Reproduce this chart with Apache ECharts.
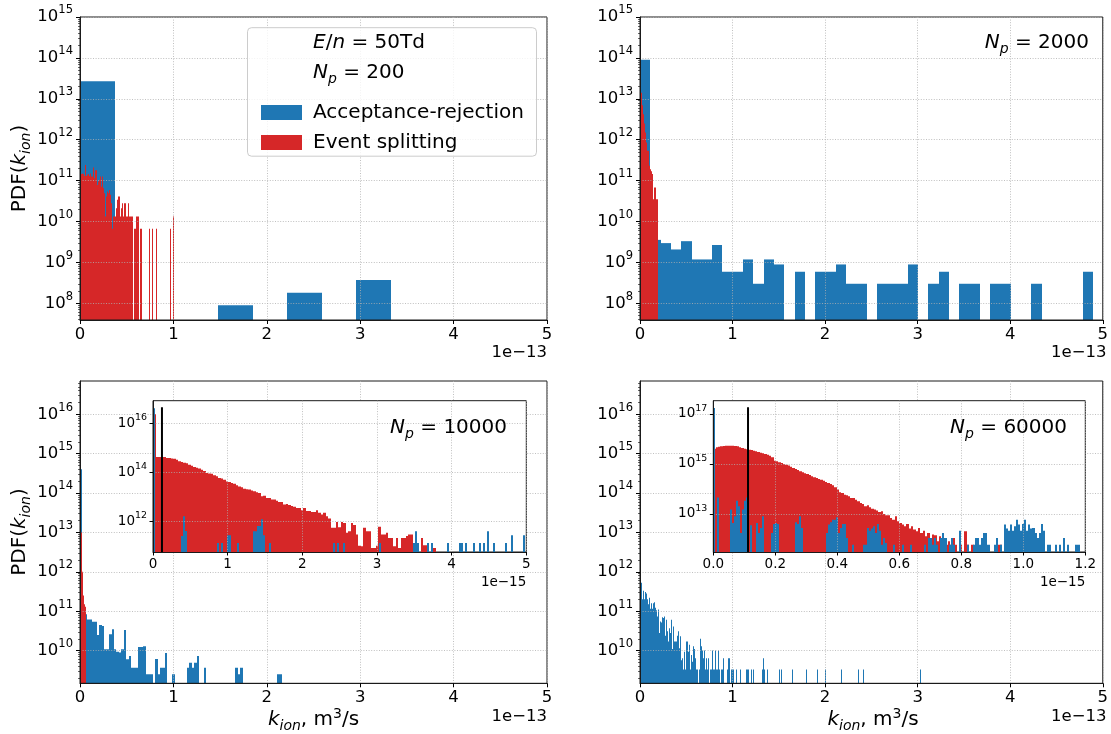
<!DOCTYPE html>
<html>
<head>
<meta charset="utf-8">
<title>PDF of ionisation rate coefficient</title>
<script src="https://cdn.jsdelivr.net/npm/echarts@6/dist/echarts.min.js"></script>
<style>
  html, body { margin: 0; padding: 0; background: #fff; }
  #chart { width: 1111px; height: 734px; }
</style>
</head>
<body>
<div id="chart"></div>
<script>
// ---------- histogram data: PDF(k_ion) per bin (x in 1e-13 m^3/s, insets in 1e-15 m^3/s) ----------

// N_p = 200
const p1BlueWidth = 0.37;
const p1Blue = [2.7e13, 0, 0, 0, 9e7, 0, 1.8e8, 0, 3.7e8];
const p1RedWidth = 0.01005;
const p1Red = [
  1.38e11, 1.45e11, 1.5e11, 1.45e11, 1.3e11, 2.4e11, 1.3e11, 1.38e11, 1.3e11, 1.45e11,
  1.3e11, 1.5e11, 1.25e11, 1.25e11, 2.1e11, 1.14e11, 1.8e11, 1.8e11, 7.8e10, 9.5e10,
  1.04e11, 1.25e11, 7.1e10, 1.25e11, 6.5e10, 5.9e10, 4.9e10, 1.32e10, 4.1e10, 5.4e10,
  4.9e10, 5.9e10, 4.5e10, 2.8e10, 6.6e9, 1.32e10, 1.32e10, 1.32e10, 2.1e10, 3.4e10,
  4.1e10, 2.8e10, 4.1e10, 1.32e10, 2.1e10, 2.8e10, 1.32e10, 2.8e10, 2.8e10, 1.32e10,
  1.32e10, 2.8e10, 1.32e10, 1.32e10, 1.32e10, 1.32e10, 0, 6.6e9, 0, 6.6e9,
  1.32e10, 1.32e10, 1.32e10, 0, 6.6e9, 6.6e9, 0, 0, 0, 0,
  0, 0, 0, 6.6e9, 0, 0, 0, 6.6e9, 0, 0,
  0, 6.6e9, 0, 0, 0, 0, 0, 0, 0, 0,
  0, 0, 0, 0, 0, 0, 6.6e9, 0, 0, 1.32e10
];

// N_p = 2000
const p2BlueWidth = 0.1113;
const p2Blue = [
  9e13, 3.55e9, 2.96e9, 2.07e9, 3.3e9, 1.18e9, 1.18e9, 2.66e9, 5.9e8, 5.9e8,
  1.18e9, 3e8, 1.18e9, 8.9e8, 0, 5.9e8, 0, 5.9e8, 5.9e8, 8.9e8,
  3e8, 3e8, 0, 3e8, 3e8, 3e8, 8.9e8, 0, 3e8, 5.9e8,
  0, 3e8, 3e8, 0, 3e8, 3e8, 0, 0, 3e8, 0,
  0, 0, 0, 5.9e8
];
const p2RedWidth = 0.01075;
const p2Red = [3e15, 1.4e13, 7e12, 4.2e12, 2.5e12, 1.5e12, 8.5e11, 5.4e11, 5.4e11, 2.3e11,
  1.9e11, 1.7e11, 1.45e11, 3.5e10, 6.8e10, 6.8e10, 3.5e10, 3.5e10];

// N_p = 10000, full range
const p3BlueWidth = 0.026;
const p3Blue = [
  4e14, 9e10, 8.4e10, 6.2e10, 6.2e10, 5.4e10, 5.4e10, 2.5e10, 4.5e10, 4.2e10,
  1.08e10, 1.08e10, 2.6e10, 3.5e10, 1.08e10, 9.4e9, 8.9e9, 1.08e10, 3.35e10, 6e9,
  7.3e9, 3.7e9, 3.7e9, 3.7e9, 1.24e10, 1.24e10, 1.3e10, 2.5e9, 2.5e9, 2.5e9,
  0, 6.1e9, 2.5e9, 3.7e9, 3.7e9, 8.7e9, 0, 0, 2.5e9, 0,
  0, 0, 0, 0, 3.7e9, 4.95e9, 3.7e9, 4.95e9, 7.3e9, 0,
  0, 3.7e9, 0, 0, 0, 0, 0, 0, 0, 0,
  0, 0, 0, 0, 3.7e9, 2.5e9, 3.7e9, 0, 0, 0,
  0, 0, 0, 0, 0, 0, 0, 0, 0, 0,
  0, 2.5e9, 2.5e9
];
const p3RedWidth = 0.0113;
const p3Red = [3e16, 1e13, 1e12, 2.5e11, 1.5e11, 1.3e11];

// N_p = 10000, zoomed (1e-15)
const i3RedWidth = 0.0335;
const i3Red = [
  2.3e16, 4.1e14, 4.1e14, 4.1e14, 4.1e14, 3.8e14, 3.8e14, 3.6e14, 3.5e14, 3.2e14,
  2.8e14, 2.6e14, 2.4e14, 2.3e14, 2.0e14, 1.8e14, 1.6e14, 1.5e14, 1.4e14, 1.26e14,
  1.1e14, 9.3e13, 8.8e13, 8.5e13, 7.5e13, 6.8e13, 5.8e13, 5.5e13, 4.9e13, 4.2e13,
  4.0e13, 3.6e13, 3.4e13, 2.9e13, 2.6e13, 2.4e13, 2.1e13, 2.0e13, 1.95e13, 1.8e13,
  1.66e13, 1.5e13, 1.42e13, 1.04e13, 1.1e13, 8.9e12, 8.9e12, 7.6e12, 7.6e12, 6.8e12,
  6.1e12, 6.1e12, 4.8e12, 5.0e12, 4.6e12, 4.2e12, 3.9e12, 3.5e12, 3.5e12, 2.8e12,
  3.5e12, 2.6e12, 2.6e12, 2.4e12, 2.4e12, 2.8e12, 2.2e12, 1.9e12, 2.2e12, 1.6e12,
  1.3e12, 5.4e11, 5.4e11, 9.4e11, 5.7e11, 9.4e11, 8.5e11, 3.4e11, 3.9e11, 8.5e11,
  7e11, 2.9e11, 1e11, 9.6e10, 5.4e11, 3.9e11, 3.9e11, 8.2e10, 8.2e10, 1e11,
  6e11, 2.9e11, 2.9e11, 3.4e11, 2.1e11, 2.1e11, 9.6e10, 2.1e11, 8.2e10, 2.1e11,
  2.1e11, 2.5e11, 2.9e11, 2.9e11, 1e11, 9.6e10, 0, 2.1e11, 1.05e11, 1.05e11,
  0, 8.2e10, 8.2e10
];
const i3BlueWidth = 0.0268;
// [bin index, PDF]
const i3Blue = [
  [0, 4e16], [14, 2.5e11], [15, 1.6e12], [16, 4e11], [32, 1.3e11], [34, 1.3e11], [37, 2.7e11],
  [38, 2.7e11], [42, 1.3e11], [50, 3.9e11], [51, 3.9e11], [52, 6.4e11], [53, 6.4e11], [54, 1.2e12],
  [55, 2.7e11], [58, 1.3e11], [90, 1.3e11], [92, 1.3e11], [95, 1.3e11], [113, 1.3e11], [130, 1.3e11],
  [131, 3.9e11], [132, 1.3e11], [137, 1.3e11], [139, 1.3e11], [147, 1.3e11], [153, 1.3e11],
  [154, 1.3e11], [156, 1.3e11], [160, 1.3e11], [163, 1.3e11], [165, 1.3e11], [167, 3.9e11],
  [170, 1.3e11], [176, 1.3e11], [179, 2.7e11], [185, 2.7e11]
];
const i3Marker = 0.12;

// N_p = 60000, full range
const p4BlueWidth = 0.01073;
const p4Blue = [
  9.6e11, 5.3e11, 2e11, 3.3e11, 2e11, 3.1e11, 2.8e11, 2e11, 1.5e11, 2.2e11,
  1.15e11, 1.6e11, 1.15e11, 1.6e11, 1.7e11, 1.22e11, 1.06e11, 7.4e10, 1.1e11, 2.8e10,
  5.5e10, 5.2e10, 7e10, 6.7e10, 7.4e10, 2.4e10, 6.1e10, 3.1e10, 1.7e10, 3.7e10,
  2.8e10, 6.1e10, 1.1e10, 4.1e10, 1.7e10, 1.7e10, 1.7e10, 2.4e10, 3.1e10, 1.15e10,
  2.3e10, 5.7e9, 6.4e9, 3.3e9, 9.4e9, 3.3e9, 1.7e10, 1.7e10, 9.4e9, 1.4e10,
  3.3e9, 7.7e9, 5.2e9, 1.3e10, 1.1e10, 6.4e9, 3.3e9, 3.3e9, 0, 3.3e9,
  2e10, 1.3e10, 1e10, 6.4e9, 1e10, 3.3e9, 6.4e9, 3.3e9, 6.4e9, 0,
  3.3e9, 3.3e9, 3.3e9, 1e10, 3.3e9, 3.3e9, 1e10, 3.3e9, 3.3e9, 1e10,
  3.3e9, 0, 3.3e9, 3.3e9, 6.4e9, 0, 0, 0, 3.3e9, 6.4e9,
  6.4e9, 0, 3.3e9, 3.3e9, 3.3e9
];
// sparse tail: [bin index, PDF]
const p4BlueTail = [
  [97, 3.3e9], [101, 3.3e9], [107, 3.3e9], [108, 3.3e9], [109, 3.3e9], [112, 3.3e9], [114, 3.3e9],
  [123, 3.3e9], [124, 6.4e9], [125, 3.3e9], [128, 3.3e9], [140, 3.3e9], [142, 3.3e9], [153, 3.3e9],
  [167, 3.3e9], [178, 3.3e9], [186, 3.3e9], [202, 3.3e9], [220, 3.3e9], [225, 3.3e9], [282, 3.3e9]
];
const p4RedWidth = 0.0108;
const p4Red = [3e16];

// N_p = 60000, zoomed (1e-15)
const i4RedWidth = 0.0075;
const i4Red = [
  4.1e15, 4.64e15, 4.93e15, 5.09e15, 5.25e15, 5.41e15, 5.41e15, 5.41e15, 5.41e15, 5.25e15,
  5.09e15, 4.64e15, 4.37e15, 4.1e15, 3.86e15, 3.74e15, 3.63e15, 3.41e15, 3.21e15, 3.02e15,
  2.84e15, 2.67e15, 2.51e15, 2.36e15, 2.15e15, 1.85e15, 1.36e15, 1.28e15, 1.17e15, 1.1e15,
  1.0e15, 9.4e14, 8.6e14, 7.8e14, 6.9e14, 6.3e14, 5.75e14, 5.1e14, 4.64e14, 4.24e14,
  3.98e14, 3.63e14, 3.21e14, 2.93e14, 2.75e14, 2.51e14, 2.36e14, 2.15e14, 1.9e14, 1.74e14,
  1.58e14, 1.4e14, 1.17e14, 9.4e13, 7.4e13, 6.9e13, 5.9e13, 5.6e13, 5.1e13, 4.37e13,
  4.37e13, 3.74e13, 3.21e13, 2.75e13, 2.51e13, 2.03e13, 2.22e13, 1.85e13, 1.63e13, 1.49e13,
  1.36e13, 1.2e13, 1.28e13, 1e13, 8.8e12, 8.8e12, 6.9e12, 5.9e12, 8.1e12, 5.1e12,
  4.37e12, 3.74e12, 3.21e12, 4e12, 2.59e12, 3.21e12, 2.36e12, 2.03e12, 2.75e12, 1.74e12,
  2.15e12, 1.28e12, 1.74e12, 1.1e12, 1.49e12, 1.4e12, 8.1e11, 1.28e12, 6.9e11, 1.1e12,
  5.9e11, 8.1e11, 5.9e11, 1.1e12, 5.9e11, 0, 5.9e11, 0, 2.03e12, 5.9e11,
  0, 5.9e11, 0, 5.9e11, 0, 5.9e11, 5.9e11, 0, 0, 0,
  0, 0, 5.9e11, 5.9e11
];
const i4BlueWidth = 0.0066;
const i4Blue = [
  [0, 1.74e17], [2, 4.6e13], [8, 1.49e13], [9, 4.37e12], [10, 8.1e12], [11, 3.4e13], [12, 2.03e13],
  [13, 1.74e12], [14, 1.49e13], [15, 3.4e13], [16, 4.6e13], [18, 3.5e12], [21, 4.37e12], [22, 1.74e12],
  [23, 2.75e12], [24, 8.1e12], [28, 1.74e12], [29, 4e12], [30, 4.37e12], [31, 4e12], [40, 4.7e12],
  [41, 4e12], [42, 8.1e12], [43, 2.75e12], [55, 1.74e12], [56, 3.74e12], [57, 4.7e12], [58, 5.9e12],
  [59, 5.9e12], [60, 7.4e12], [61, 1.74e12], [62, 2.75e12], [63, 4e12], [64, 4e12], [65, 1.1e12],
  [68, 5.9e11], [73, 5.9e11], [74, 5.9e11], [75, 2.75e12], [76, 2.15e12], [77, 2.59e12], [78, 3.21e12],
  [79, 1.74e12], [80, 4e12], [81, 2.15e12], [82, 5.9e11], [83, 1.1e12], [84, 6.9e11], [88, 5.9e11],
  [92, 5.9e11], [96, 5.9e11], [103, 5.9e11], [105, 1.1e12], [106, 1.1e12], [107, 5.9e11], [108, 1.1e12],
  [109, 5.9e11], [111, 1.1e12], [112, 1.74e12], [113, 1.1e12], [115, 5.9e11], [116, 1.1e12],
  [117, 5.9e11], [120, 2.15e12], [124, 5.9e11], [127, 5.9e11], [128, 1.1e12], [129, 1.1e12],
  [130, 5.9e11], [131, 1.1e12], [132, 1.74e12], [133, 1.74e12], [134, 5.9e11], [137, 5.9e11],
  [138, 1.1e12], [140, 5.9e11], [142, 3.74e12], [143, 2.59e12], [144, 2.15e12], [145, 3.74e12],
  [146, 2.15e12], [147, 3.21e12], [148, 5.9e12], [149, 3.74e12], [150, 2.15e12], [151, 4e12],
  [152, 5.9e12], [153, 2.15e12], [154, 3.74e12], [155, 2.59e12], [156, 2.75e12], [157, 1.74e12],
  [158, 1.1e12], [159, 1.74e12], [160, 4e12], [161, 2.15e12], [163, 5.9e11], [164, 5.9e11],
  [167, 5.9e11], [169, 5.9e11], [171, 1.1e12], [173, 5.9e11], [177, 5.9e11], [178, 5.9e11]
];
const i4Marker = 0.112;

// ---------- axis ranges and tick labels ----------
const topRange = [3.9e7, 1.000001e15];
const topMajors = [1e8, 1e9, 1e10, 1e11, 1e12, 1e13, 1e14, 1e15];
const bottomRange = [1.48e9, 7e16];
const bottomMajors = [1e10, 1e11, 1e12, 1e13, 1e14, 1e15, 1e16];
const inset3Range = [5.6e10, 8.1e16];
const inset3Majors = [1e12, 1e14, 1e16];
const inset4Range = [3.0e11, 3.4e17];
const inset4Majors = [1e13, 1e15, 1e17];
const mainXTicks = [0, 1, 2, 3, 4, 5];
const inset4XTicks = [0, 0.2, 0.4, 0.6, 0.8, 1.0, 1.2];

// ---------- styling ----------
const FONT = "'DejaVu Sans', sans-serif";
const BLUE = '#1f77b4';
const RED = '#d62728';
const SPINE = '#1a1a1a';
const GRIDLINE = { color: '#b0b0b0', width: 0.8, type: [1, 1.6] };

// minor log ticks (2..9 x 10^n) inside a range
function minorTicks(lo, hi) {
  const out = [];
  for (let e = Math.floor(Math.log10(lo)); e <= Math.ceil(Math.log10(hi)); e++) {
    for (let m = 2; m <= 9; m++) {
      const v = m * Math.pow(10, e);
      if (v >= lo && v <= hi) out.push(v);
    }
  }
  return out;
}

function denseBins(values, width) {
  const out = [];
  values.forEach((v, i) => { if (v > 0) out.push([i * width, (i + 1) * width, v]); });
  return out;
}
function sparseBins(pairs, width) {
  return pairs.map(([i, v]) => [i * width, (i + 1) * width, v]);
}

// bars are snapped to whole pixels so neighbouring bins join without seams
function histSeries(name, color, axisIdx, floor, data, z) {
  return {
    type: 'custom', name, xAxisIndex: axisIdx, yAxisIndex: axisIdx, z, clip: true, silent: true,
    itemStyle: { color }, encode: { x: [0, 1], y: 2 }, data,
    renderItem(params, api) {
      const a = api.coord([api.value(0), api.value(2)]);
      const b = api.coord([api.value(1), floor]);
      const x0 = Math.round(a[0]);
      const x1 = Math.max(Math.round(b[0]), x0 + 1);
      return { type: 'rect', shape: { x: x0, y: a[1], width: x1 - x0, height: b[1] - a[1] },
               style: { fill: color } };
    }
  };
}

function markerSeries(axisIdx, x, range, top) {
  return {
    type: 'line', xAxisIndex: axisIdx, yAxisIndex: axisIdx, z: 6, silent: true, symbol: 'none',
    lineStyle: { color: '#000', width: 2 }, data: [[x, range[0]], [x, top]]
  };
}

function powLabel(v) {
  return '{b|10}{e|' + Math.round(Math.log10(v)) + '}';
}
function powRich(size) {
  return {
    b: { fontFamily: FONT, fontSize: size, color: '#000', lineHeight: size + 2 },
    e: { fontFamily: FONT, fontSize: size * 0.7, color: '#000', lineHeight: size + 2, padding: [0, 0, size * 0.8, 0] }
  };
}

const grids = [
  { left: 80, top: 17, width: 467, height: 303 },
  { left: 640, top: 17, width: 466.5, height: 303 },
  { left: 80, top: 381, width: 467, height: 302.3 },
  { left: 640, top: 381, width: 466.5, height: 302.3 },
  { left: 153, top: 400.7, width: 373.3, height: 151.3 },
  { left: 713.3, top: 400.7, width: 372, height: 151.3 }
].map((g, i) => Object.assign({
  show: true, z: i < 4 ? 3 : 4, borderColor: SPINE, borderWidth: 1,
  backgroundColor: i < 4 ? 'transparent' : '#fff', containLabel: false
}, g));

function xAxisFor(idx, inset) {
  const z = inset ? 6 : 3;
  const ticks = idx === 5 ? inset4XTicks : mainXTicks;
  return {
    type: 'value', gridIndex: idx, min: ticks[0], max: ticks[ticks.length - 1],
    interval: ticks[1] - ticks[0], z,
    axisLine: { show: true, onZero: false, lineStyle: { color: SPINE, width: 1 } },
    axisTick: { show: true, length: inset ? 3.5 : 4, lineStyle: { color: '#000', width: 1 } },
    axisLabel: {
      fontFamily: FONT, fontSize: inset ? 13.5 : 16.5, color: '#000', margin: inset ? 5 : 6,
      formatter: idx === 5 ? (v => v.toFixed(1)) : (v => String(v))
    },
    splitLine: { show: true, lineStyle: GRIDLINE }
  };
}

function yAxisFor(idx, range, majors, inset) {
  const size = inset ? 13.5 : 16.5;
  return {
    type: 'log', gridIndex: idx, min: range[0], max: range[1], z: inset ? 6 : 3, position: 'left',
    axisLine: { show: true, onZero: false, lineStyle: { color: SPINE, width: 1 } },
    axisTick: { show: true, length: inset ? 3.5 : 4, customValues: majors, lineStyle: { color: '#000', width: 1 } },
    axisLabel: { customValues: majors, formatter: powLabel, rich: powRich(size), margin: inset ? 6 : 7 },
    splitLine: { show: true, lineStyle: GRIDLINE }
  };
}

function minorYAxis(idx, range) {
  return {
    type: 'log', gridIndex: idx, min: range[0], max: range[1], z: 3, position: 'left', offset: 0,
    axisLine: { show: false }, axisLabel: { show: false }, splitLine: { show: false },
    axisTick: { show: true, length: 2, customValues: minorTicks(range[0], range[1]),
                lineStyle: { color: '#000', width: 0.6 } }
  };
}

const xAxes = [0, 1, 2, 3, 4, 5].map(i => xAxisFor(i, i >= 4));
const yAxes = [
  yAxisFor(0, topRange, topMajors, false),
  yAxisFor(1, topRange, topMajors, false),
  yAxisFor(2, bottomRange, bottomMajors, false),
  yAxisFor(3, bottomRange, bottomMajors, false),
  yAxisFor(4, inset3Range, inset3Majors, true),
  yAxisFor(5, inset4Range, inset4Majors, true),
  minorYAxis(0, topRange), minorYAxis(1, topRange),
  minorYAxis(2, bottomRange), minorYAxis(3, bottomRange)
];

const AR = 'Acceptance-rejection';
const ES = 'Event splitting';
const series = [
  histSeries(AR, BLUE, 0, topRange[0], denseBins(p1Blue, p1BlueWidth), 2),
  histSeries(ES, RED, 0, topRange[0], denseBins(p1Red, p1RedWidth), 2),
  histSeries(AR, BLUE, 1, topRange[0], denseBins(p2Blue, p2BlueWidth), 2),
  histSeries(ES, RED, 1, topRange[0], denseBins(p2Red, p2RedWidth), 2),
  histSeries(AR, BLUE, 2, bottomRange[0], denseBins(p3Blue, p3BlueWidth), 2),
  histSeries(ES, RED, 2, bottomRange[0], denseBins(p3Red, p3RedWidth), 2),
  histSeries(AR, BLUE, 3, bottomRange[0],
    denseBins(p4Blue, p4BlueWidth).concat(sparseBins(p4BlueTail, p4BlueWidth)), 2),
  histSeries(ES, RED, 3, bottomRange[0], denseBins(p4Red, p4RedWidth), 2),
  histSeries(ES, RED, 4, inset3Range[0], denseBins(i3Red, i3RedWidth), 5),
  histSeries(AR, BLUE, 4, inset3Range[0], sparseBins(i3Blue, i3BlueWidth), 5),
  markerSeries(4, i3Marker, inset3Range, 4.4e16),
  histSeries(ES, RED, 5, inset4Range[0], denseBins(i4Red, i4RedWidth), 5),
  histSeries(AR, BLUE, 5, inset4Range[0], sparseBins(i4Blue, i4BlueWidth), 5),
  markerSeries(5, i4Marker, inset4Range, 1.86e17)
];

// rich text pieces for math-style labels
function mathRich(size) {
  const lh = size * 1.2;
  return {
    r: { fontFamily: FONT, fontSize: size, fill: '#000', lineHeight: lh },
    i: { fontFamily: FONT, fontSize: size, fill: '#000', fontStyle: 'italic', lineHeight: lh },
    sub: { fontFamily: FONT, fontSize: size * 0.7, fill: '#000', fontStyle: 'italic', lineHeight: lh,
           padding: [size * 0.6, 0, 0, 0] },
    sup: { fontFamily: FONT, fontSize: size * 0.7, fill: '#000', lineHeight: lh,
           padding: [0, 0, size * 0.55, 0] }
  };
}
function mathText(x, y, text, size, align, rotation) {
  return {
    type: 'text', x, y, z: 11, rotation: rotation || 0, silent: true,
    style: { text, rich: mathRich(size), align, verticalAlign: 'middle' }
  };
}
function plainText(x, y, text, size, align) {
  return {
    type: 'text', x, y, z: 11, silent: true,
    style: { text, fontFamily: FONT, fontSize: size, fill: '#000', align, verticalAlign: 'middle' }
  };
}

const graphics = [
  { type: 'rect', z: 10, silent: true, shape: { x: 247.5, y: 27.7, width: 289, height: 128.5, r: 4 },
    style: { fill: 'rgba(255,255,255,0.8)', stroke: '#cccccc', lineWidth: 1 } },
  mathText(313, 43, '{i|E}{r|/}{i|n}{r| = 50Td}', 20, 'left'),
  mathText(313, 73, '{i|N}{sub|p}{r| = 200}', 20, 'left'),
  mathText(1089, 43, '{i|N}{sub|p}{r| = 2000}', 20, 'right'),
  mathText(507, 428, '{i|N}{sub|p}{r| = 10000}', 20, 'right'),
  mathText(1067, 428, '{i|N}{sub|p}{r| = 60000}', 20, 'right'),
  mathText(20, 168.5, '{r|PDF(}{i|k}{sub|ion}{r|)}', 20, 'center', Math.PI / 2),
  mathText(20, 532, '{r|PDF(}{i|k}{sub|ion}{r|)}', 20, 'center', Math.PI / 2),
  mathText(313.5, 720, '{i|k}{sub|ion}{r|, m}{sup|3}{r|/s}', 20, 'center'),
  mathText(873, 720, '{i|k}{sub|ion}{r|, m}{sup|3}{r|/s}', 20, 'center'),
  plainText(547, 353, '1e\u221213', 16.5, 'right'),
  plainText(1106.5, 353, '1e\u221213', 16.5, 'right'),
  plainText(547, 717, '1e\u221213', 16.5, 'right'),
  plainText(1106.5, 717, '1e\u221213', 16.5, 'right'),
  plainText(526.3, 582, '1e\u221215', 13.5, 'right'),
  plainText(1085.3, 582, '1e\u221215', 13.5, 'right')
];

const chart = echarts.init(document.getElementById('chart'), null, { renderer: 'canvas' });
chart.setOption({
  animation: false,
  backgroundColor: '#fff',
  grid: grids,
  xAxis: xAxes,
  yAxis: yAxes,
  legend: {
    data: [AR, ES], left: 256, top: 97.5, orient: 'vertical', icon: 'rect',
    itemWidth: 41, itemHeight: 15, itemGap: 10, selectedMode: false, z: 11,
    textStyle: { fontFamily: FONT, fontSize: 20, color: '#000', lineHeight: 20, padding: [0, 0, 0, 6] }
  },
  series,
  graphic: graphics
});
</script>
</body>
</html>
